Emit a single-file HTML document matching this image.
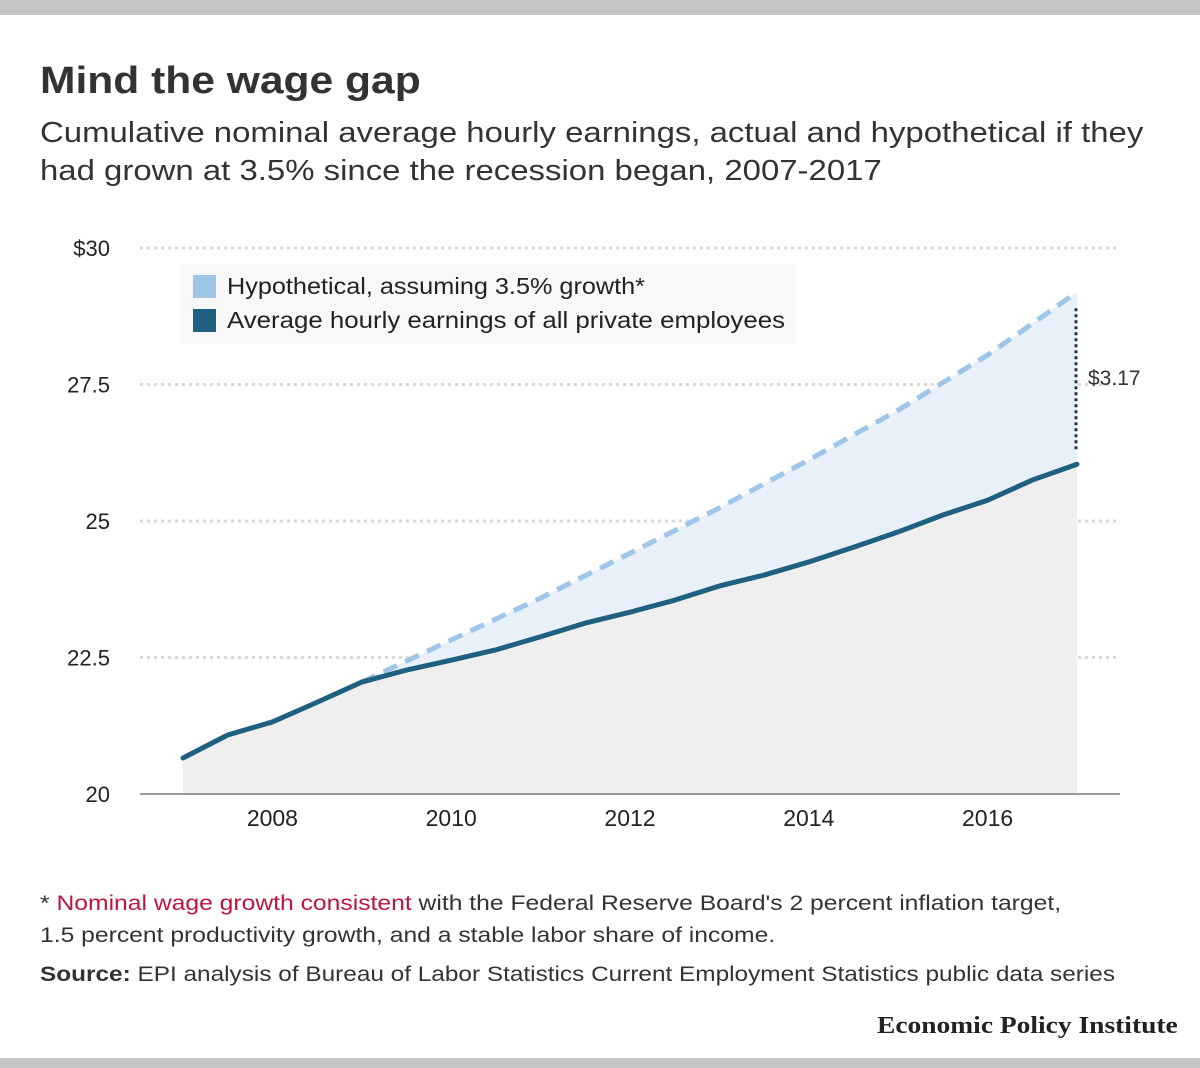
<!DOCTYPE html>
<html><head><meta charset="utf-8"><style>
body{margin:0;width:1200px;height:1068px;background:#fff;font-family:"Liberation Sans",sans-serif;position:relative;overflow:hidden;color:#333}
.bar{position:absolute;left:0;width:1200px;background:#c4c4c4}
.t{position:absolute;white-space:nowrap;transform-origin:0 0}
</style></head><body>
<div class="bar" style="top:0;height:15px"></div>
<div class="bar" style="top:1058px;height:10px"></div>
<div class="t" style="left:40px;top:60px;font-size:38px;font-weight:bold;color:#333;transform:scaleX(1.12)">Mind the wage gap</div>
<div class="t" style="left:40px;top:114px;font-size:29px;line-height:38px;color:#333;transform:scaleX(1.135)">Cumulative nominal average hourly earnings, actual and hypothetical if they<br>had grown at 3.5% since the recession began, 2007-2017</div>
<svg id="chart" width="1200" height="860" style="position:absolute;left:0;top:200px"></svg>
<div class="t" style="left:40px;top:888px;font-size:21px;line-height:32px;color:#333;transform:scaleX(1.175)">* <span style="color:#c0143c">Nominal wage growth consistent</span> with the Federal Reserve Board's 2 percent inflation target,<br>1.5 percent productivity growth, and a stable labor share of income.</div>
<div class="t" style="left:40px;top:963px;font-size:21px;color:#333;transform:scaleX(1.16)"><b>Source:</b> EPI analysis of Bureau of Labor Statistics Current Employment Statistics public data series</div>
<div class="t" style="left:877px;top:1013px;font-size:24px;font-weight:bold;font-family:'Liberation Serif',serif;color:#222;transform:scaleX(1.145)">Economic Policy Institute</div>
<script>
const actualYears=[2007,2007.5,2008,2008.5,2009,2009.5,2010,2010.5,2011,2011.5,2012,2012.5,2013,2013.5,2014,2014.5,2015,2015.5,2016,2016.5,2017];
const actualValues=[20.66,21.08,21.32,21.68,22.05,22.27,22.45,22.64,22.88,23.13,23.33,23.55,23.81,24.01,24.25,24.52,24.80,25.11,25.38,25.75,26.04];
const hypoYears=[2009,2010,2011,2012,2013,2014,2015,2016,2017];
const hypoValues=[22.05,22.82,23.59,24.41,25.24,26.12,27.03,28.04,29.19];
const yTicks=[20,22.5,25,27.5,30];
const yTickLabels=["20","22.5","25","27.5","$30"];
const xTicks=[2008,2010,2012,2014,2016];
const gapLabel="$3.17";
const OY=200;
const X=y=>183+(y-2007)*89.4;
const Y=v=>794-OY-(v-20)*54.6;
const svg=document.getElementById('chart');const NS='http://www.w3.org/2000/svg';
function mk(tag,attrs,parent){const e=document.createElementNS(NS,tag);for(const k in attrs)e.setAttribute(k,attrs[k]);(parent||svg).appendChild(e);return e;}
yTicks.forEach((v,i)=>{
 if(i>0){const g=mk('line',{x1:140,x2:1120,y1:Y(v),y2:Y(v),stroke:'#d8d8d8','stroke-width':3,'stroke-dasharray':'3 4'});
 
 }
 const t=mk('text',{x:110,y:Y(v)+8,'text-anchor':'end','font-size':22,fill:'#222'});t.textContent=yTickLabels[i];
 
 
});
let ap=actualYears.map((y,i)=>X(y)+','+Y(actualValues[i])).join(' L');
let hp=hypoYears.map((y,i)=>X(y)+','+Y(hypoValues[i])).join(' L');
const gf=mk('path',{d:'M'+ap+' L'+X(2017)+','+Y(20)+' L'+X(2007)+','+Y(20)+'Z',fill:'#efefef'});


let rev=actualYears.map((y,i)=>[y,actualValues[i]]).filter(p=>p[0]>=2009).reverse().map(p=>X(p[0])+','+Y(p[1])).join(' L');
const bf=mk('path',{d:'M'+hp+' L'+rev+'Z',fill:'#e8f1f9'});


const ax=mk('line',{x1:140,x2:1120,y1:Y(20),y2:Y(20),stroke:'#999','stroke-width':2});


xTicks.forEach(y=>{const t=mk('text',{x:X(y),y:Y(20)+32,'text-anchor':'middle','font-size':23,fill:'#222'});t.textContent=y;
 
 });
const hl=mk('path',{d:'M'+hp,fill:'none',stroke:'#9fc5e8','stroke-width':5,'stroke-dasharray':'15 9'});


const al=mk('path',{d:'M'+ap,fill:'none',stroke:'#1f5f80','stroke-width':5,'stroke-linejoin':'round','stroke-linecap':'round'});


const last=actualValues.length-1,hl2=hypoValues.length-1;
const gl=mk('line',{x1:X(2017)-1,x2:X(2017)-1,y1:Y(hypoValues[hl2])+16,y2:Y(actualValues[last])-12,stroke:'#333','stroke-width':3,'stroke-dasharray':'3 3'});


const gt=mk('text',{x:1088,y:(Y(hypoValues[hl2])+Y(actualValues[last]))/2+7,'font-size':21,fill:'#333'});gt.textContent=gapLabel;


const lg=mk('g',{});


mk('rect',{x:180,y:64,width:616,height:80,fill:'#f8f8f8'},lg);
mk('rect',{x:193,y:75,width:23,height:23,fill:'#9fc5e8'},lg);
mk('rect',{x:193,y:109,width:23,height:23,fill:'#1f5f80'},lg);
const l1=mk('text',{x:227,y:94,'font-size':23,fill:'#222',textLength:418,lengthAdjust:'spacingAndGlyphs'},lg);l1.textContent='Hypothetical, assuming 3.5% growth*';


const l2=mk('text',{x:227,y:128,'font-size':23,fill:'#222',textLength:558,lengthAdjust:'spacingAndGlyphs'},lg);l2.textContent='Average hourly earnings of all private employees';


</script>
</body></html>
